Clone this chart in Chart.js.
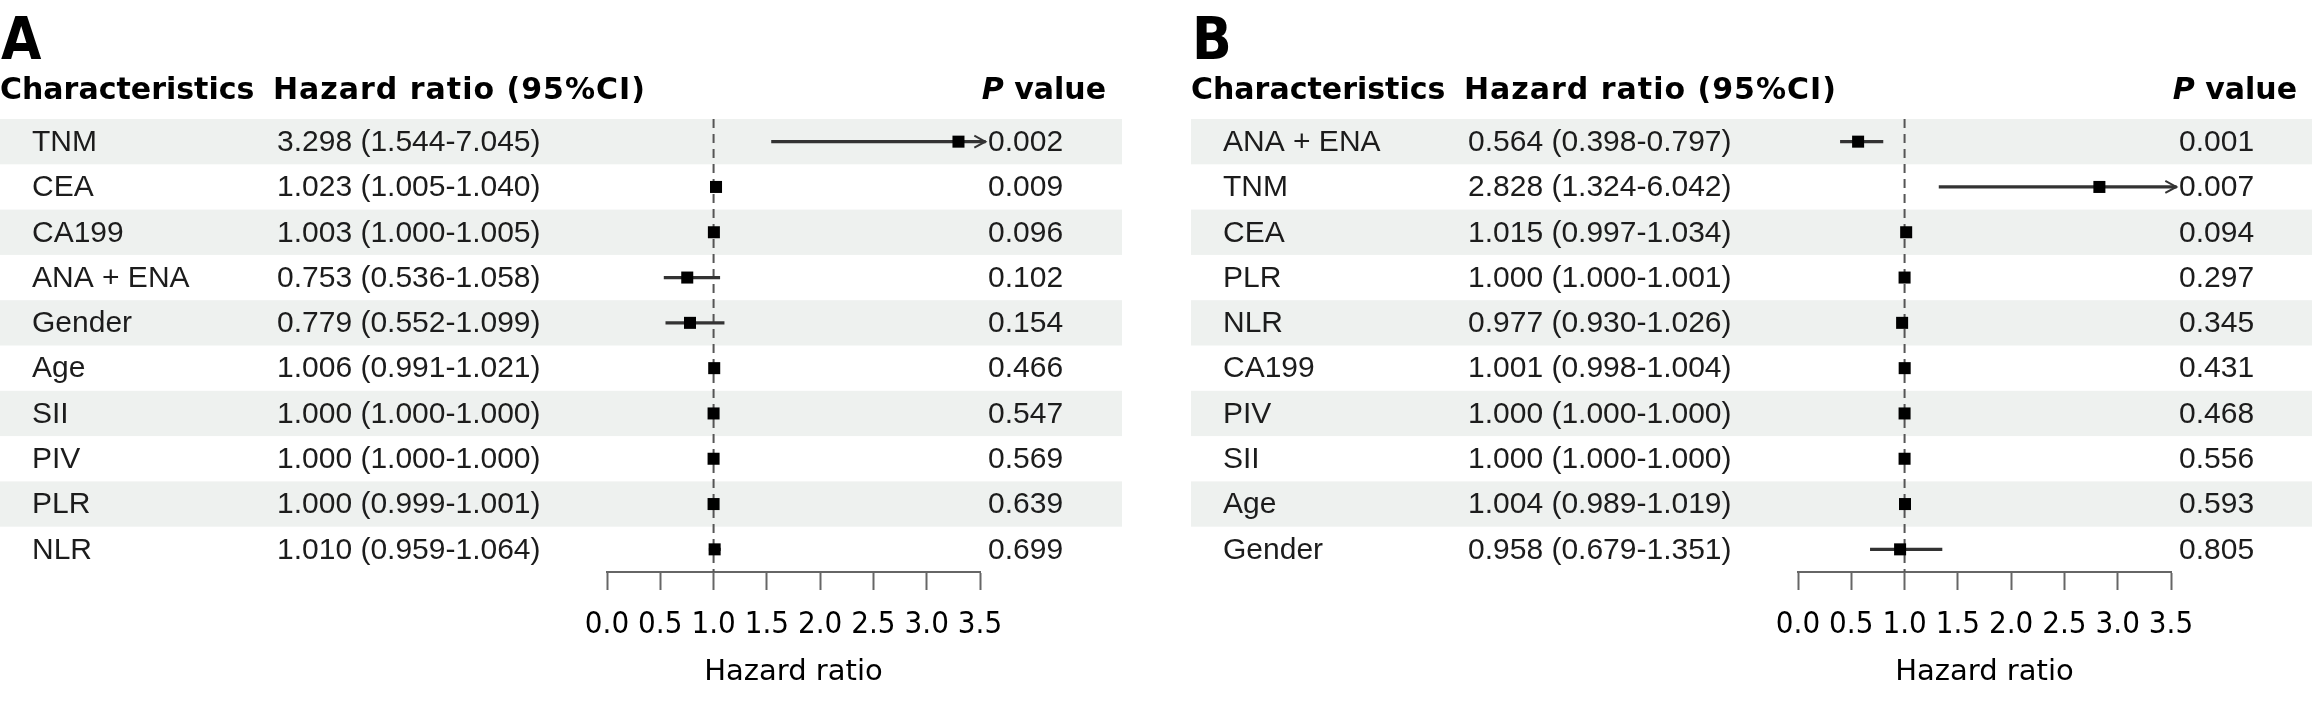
<!DOCTYPE html>
<html>
<head>
<meta charset="utf-8">
<script src="https://cdn.jsdelivr.net/npm/chart.js@4.4.1/dist/chart.umd.min.js"></script>
<style>
  html, body { margin: 0; padding: 0; background: #fff; }
  body { width: 2312px; height: 701px; position: relative; overflow: hidden; }
  canvas { position: absolute; top: 0; }
  #chartA { left: 0; }
  #chartB { left: 1191px; }
</style>
</head>
<body>
<canvas id="chartA" width="1122" height="701"></canvas>
<canvas id="chartB" width="1122" height="701"></canvas>
<script>
// --- DATA | PANEL A --- //
const namesA = ['TNM', 'CEA', 'CA199', 'ANA + ENA', 'Gender', 'Age', 'SII', 'PIV', 'PLR', 'NLR']
const hrA = [3.298, 1.023, 1.003, 0.753, 0.779, 1.006, 1.000, 1.000, 1.000, 1.010]
const lowA = [1.544, 1.005, 1.000, 0.536, 0.552, 0.991, 1.000, 1.000, 0.999, 0.959]
const highA = [7.045, 1.040, 1.005, 1.058, 1.099, 1.021, 1.000, 1.000, 1.001, 1.064]
const pA = ['0.002', '0.009', '0.096', '0.102', '0.154', '0.466', '0.547', '0.569', '0.639', '0.699']

// --- DATA | PANEL B --- //
const namesB = ['ANA + ENA', 'TNM', 'CEA', 'PLR', 'NLR', 'CA199', 'PIV', 'SII', 'Age', 'Gender']
const hrB = [0.564, 2.828, 1.015, 1.000, 0.977, 1.001, 1.000, 1.000, 1.004, 0.958]
const lowB = [0.398, 1.324, 0.997, 1.000, 0.930, 0.998, 1.000, 1.000, 0.989, 0.679]
const highB = [0.797, 6.042, 1.034, 1.001, 1.026, 1.004, 1.000, 1.000, 1.019, 1.351]
const pB = ['0.001', '0.007', '0.094', '0.297', '0.345', '0.431', '0.468', '0.556', '0.593', '0.805']

// --- AXIS --- //
const xTicks = [0, 0.5, 1, 1.5, 2, 2.5, 3, 3.5]
const refValue = 1
const xCap = 3.55 // CI lines past the axis end in an arrow here

// --- TABLE TEXT, ROW BANDS, ARROWS --- //
function tablePlugin (panel) {
  return {
    id: 'table' + panel.letter,
    beforeDatasetsDraw: chart => {
      const { ctx, scales: { y } } = chart
      ctx.save()
      ctx.fillStyle = '#eef1ef'
      panel.names.forEach((n, i) => {
        if (i % 2) return
        const top = y.getPixelForValue(i - 0.5)
        const bottom = y.getPixelForValue(i + 0.5)
        ctx.fillRect(0, top, chart.width, bottom - top)
      })
      ctx.restore()
    },
    afterDatasetsDraw: chart => {
      const { ctx, scales: { x, y } } = chart
      ctx.save()
      ctx.strokeStyle = '#333'
      ctx.lineWidth = 2
      panel.high.forEach((h, i) => {
        if (h <= xCap) return
        const px = x.getPixelForValue(xCap)
        const py = y.getPixelForValue(i)
        ctx.beginPath()
        ctx.moveTo(px - 11, py - 6)
        ctx.lineTo(px, py)
        ctx.lineTo(px - 11, py + 6)
        ctx.stroke()
      })
      ctx.restore()
    },
    afterDraw: chart => {
      const { ctx, scales: { y } } = chart
      ctx.save()
      ctx.fillStyle = '#000'
      ctx.textBaseline = 'alphabetic'
      ctx.font = "bold 58px 'DejaVu Sans Condensed'"
      ctx.fillText(panel.letter, 1, 59)

      ctx.textBaseline = 'middle'
      ctx.font = "bold 30px 'DejaVu Sans'"
      ctx.fillText('Characteristics', 0, 91)
      ctx.letterSpacing = '1px'
      ctx.fillText('Hazard ratio (95%CI)', 273, 91)
      ctx.letterSpacing = '0px'
      ctx.textAlign = 'right'
      ctx.fillText('value', 1106, 91)
      const w = ctx.measureText(' value').width
      ctx.font = "italic bold 30px 'DejaVu Sans'"
      ctx.fillText('P', 1106 - w, 91)

      ctx.textAlign = 'left'
      ctx.fillStyle = '#1c1c1c'
      ctx.font = "30px 'Liberation Sans'"
      panel.names.forEach((n, i) => {
        const py = y.getPixelForValue(i) + 1
        const ci = `${panel.hr[i].toFixed(3)} (${panel.low[i].toFixed(3)}-${panel.high[i].toFixed(3)})`
        ctx.fillText(n, 32, py)
        ctx.fillText(ci, 277, py)
        ctx.fillText(panel.p[i], 988, py)
      })
      ctx.restore()
    }
  }
}

function makePanel (id, panel) {
  const rows = panel.names.map((n, i) => i)
  return new Chart(document.getElementById(id), {
    data: {
      datasets: [
        {
          type: 'scatter',
          data: panel.hr.map((v, i) => ({ x: v, y: rows[i] })),
          pointStyle: 'rect',
          pointRadius: 8.5,
          pointHoverRadius: 8.5,
          backgroundColor: '#000',
          borderWidth: 0,
          clip: false,
          order: 0
        },
        {
          type: 'bar',
          indexAxis: 'y',
          data: panel.low.map((lo, i) => ({ x: [lo, Math.min(panel.high[i], xCap)], y: rows[i] })),
          backgroundColor: '#333',
          barThickness: 2.5,
          clip: false,
          order: 1
        },
        {
          type: 'scatter',
          showLine: true,
          data: [{ x: refValue, y: -0.5 }, { x: refValue, y: rows.length - 0.5 }],
          borderColor: '#555',
          borderWidth: 2,
          borderDash: [9, 6],
          pointRadius: 0,
          order: 2
        }
      ]
    },
    options: {
      responsive: false,
      animation: false,
      events: [],
      layout: { padding: { left: 607, right: 142, top: 119, bottom: 0 } },
      plugins: { legend: { display: false }, tooltip: { enabled: false } },
      scales: {
        x: {
          type: 'linear',
          position: 'bottom',
          offset: false,
          min: xTicks[0],
          max: xTicks[xTicks.length - 1],
          afterBuildTicks: scale => { scale.ticks = xTicks.map(v => ({ value: v })) },
          afterFit: scale => { scale.height = 129 },
          ticks: {
            callback: v => v.toFixed(1),
            color: '#000',
            padding: 16,
            maxRotation: 0,
            autoSkip: false,
            font: { family: "'DejaVu Sans Condensed'", size: 31 }
          },
          grid: {
            offset: false,
            drawOnChartArea: false,
            drawTicks: true,
            tickLength: 18,
            tickColor: '#666',
            tickWidth: 2
          },
          border: { display: true, color: '#666', width: 2 },
          title: {
            display: true,
            text: 'Hazard ratio',
            color: '#000',
            padding: { top: 0, bottom: 11 },
            font: { family: "'DejaVu Sans'", size: 29 }
          }
        },
        y: {
          type: 'linear',
          display: false,
          offset: false,
          reverse: true,
          min: -0.5,
          max: rows.length - 0.5
        }
      }
    },
    plugins: [tablePlugin(panel)]
  })
}

const chartA = makePanel('chartA', { letter: 'A', names: namesA, hr: hrA, low: lowA, high: highA, p: pA })
const chartB = makePanel('chartB', { letter: 'B', names: namesB, hr: hrB, low: lowB, high: highB, p: pB })
</script>
</body>
</html>
